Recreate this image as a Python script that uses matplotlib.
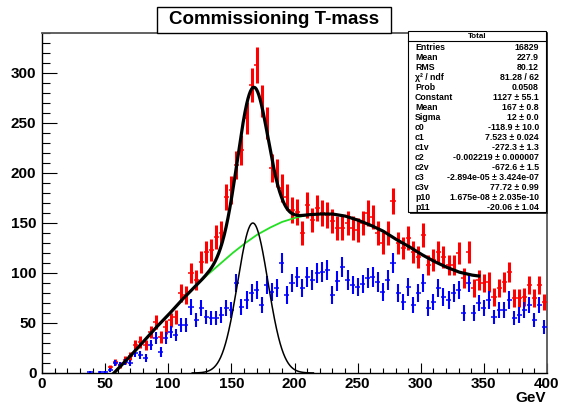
import numpy as np
import matplotlib.pyplot as plt
from matplotlib.patches import Rectangle

plt.rcParams['font.family'] = ['Liberation Sans', 'DejaVu Sans']
plt.rcParams['font.weight'] = 'bold'

# bin centres (4 GeV bins) and contents
red_x = [54, 58, 62, 66, 70, 74, 78, 82, 86, 90, 94, 98, 102, 106, 110, 114, 118, 122,
         126, 130, 134, 138, 142, 146, 150, 154, 158, 162, 166, 170, 174, 178, 182, 186,
         190, 194, 198, 202, 206, 210, 214, 218, 222, 226, 230, 234, 238, 242, 246, 250,
         254, 258, 262, 266, 270, 274, 278, 282, 286, 290, 294, 298, 302, 306, 310, 314,
         318, 322, 326, 330, 334, 338, 342, 346, 350, 354, 358, 362, 366, 370, 374, 378,
         382, 386, 390, 394, 398]
red_y = [6, 11, 8, 13, 17, 28, 31, 28, 41, 51, 36, 46, 53, 56, 80, 78, 100, 93,
         111, 121, 123, 136, 140, 176, 183, 208, 223, 255, 288, 308, 272, 250, 205, 200,
         185, 176, 163, 161, 140, 168, 153, 165, 160, 158, 152, 145, 145, 150, 145, 143,
         150, 160, 156, 140, 130, 140, 172, 130, 125, 135, 121, 116, 138, 108, 113, 121,
         116, 108, 108, 120, 95, 121, 85, 93, 90, 91, 76, 85, 91, 101, 75, 75,
         76, 88, 75, 88, 71]

blue_x = [38, 46, 50, 54, 58, 62, 66, 70, 74, 78, 82, 86, 90, 94, 98, 102, 106, 110,
          114, 118, 122, 126, 130, 134, 138, 142, 146, 150, 154, 158, 162, 166, 170, 174,
          178, 182, 186, 190, 194, 198, 202, 206, 210, 214, 218, 222, 226, 230, 234, 238,
          242, 246, 250, 254, 258, 262, 266, 270, 274, 278, 282, 286, 290, 294, 298, 302,
          306, 310, 314, 318, 322, 326, 330, 334, 338, 342, 346, 350, 354, 358, 362, 366,
          370, 374, 378, 382, 386, 390, 394, 398]
blue_y = [1, 1, 1, 3, 10, 8, 11, 10, 20, 18, 15, 28, 35, 21, 35, 41, 38, 48,
          48, 66, 53, 65, 56, 55, 55, 58, 65, 63, 90, 66, 73, 80, 83, 68,
          88, 81, 85, 110, 78, 90, 96, 85, 96, 93, 100, 101, 103, 78, 92, 106,
          93, 88, 86, 89, 95, 96, 91, 81, 93, 110, 80, 71, 86, 68, 80, 90,
          65, 71, 85, 76, 73, 80, 83, 60, 90, 60, 70, 65, 73, 56, 63, 63,
          73, 55, 58, 63, 68, 53, 68, 46]

# background shape of the fit
bg_x = [57, 60, 70, 80, 90, 100, 110, 120, 130, 140, 150, 160, 170, 180, 190, 200,
        210, 220, 230, 240, 250, 260, 270, 280, 290, 300, 310, 320, 330, 340, 346]
bg_y = [0, 4, 17, 31, 45, 58, 72, 85, 97, 108, 119, 129, 138, 145, 151, 155,
        158, 159, 159, 157, 153, 148, 142, 134, 127, 119, 112, 106, 101, 98, 97]

peak_mean = 167
peak_sigma = 12
peak_height = 150

stats = [("Entries", "16829"), ("Mean", "227.9"), ("RMS", "80.12"),
         ("\u03c7\u00b2 / ndf", "81.28 / 62"), ("Prob", "0.0508"),
         ("Constant", "1127 \u00b1 55.1"), ("Mean", "167 \u00b1 0.8"),
         ("Sigma", "12 \u00b1 0.0"), ("c0", "-118.9 \u00b1 10.0"),
         ("c1", "7.523 \u00b1 0.024"), ("c1v", "-272.3 \u00b1 1.3"),
         ("c2", "-0.002219 \u00b1 0.000007"), ("c2v", "-672.6 \u00b1 1.5"),
         ("c3", "-2.894e-05 \u00b1 3.424e-07"), ("c3v", "77.72 \u00b1 0.99"),
         ("p10", "1.675e-08 \u00b1 2.035e-10"), ("p11", "-20.06 \u00b1 1.04")]

W, H = 562, 407
fig = plt.figure(figsize=(W / 100, H / 100), dpi=100)
fig.patch.set_facecolor('white')


def fx(px):
    return px / W


def fy(py):
    return 1 - py / H


ax = fig.add_axes([fx(42), fy(373), fx(547) - fx(42), fy(33) - fy(373)])


def draw_hist(xs, ys, color, vlw):
    xs = np.array(xs, float)
    ys = np.array(ys, float)
    err = np.sqrt(ys)
    ax.vlines(xs, ys - err, ys + err, color=color, lw=vlw, zorder=3)
    ax.hlines(ys, xs - 2, xs + 2, color=color, lw=1.1, zorder=3)


draw_hist(red_x, red_y, '#ff0000', 2.2)
draw_hist(blue_x, blue_y, '#0000ff', 1.5)

# fit curves
xf = np.linspace(bg_x[0], bg_x[-1], 600)
bg = np.interp(xf, bg_x, bg_y)
gauss = peak_height * np.exp(-0.5 * ((xf - peak_mean) / peak_sigma) ** 2)
ax.plot(xf, bg, color='#22e022', lw=1.3, zorder=4)
ax.plot(xf, bg + gauss, color='black', lw=2.3, zorder=5)

xg = np.linspace(peak_mean - 4 * peak_sigma, peak_mean + 4 * peak_sigma, 300)
ax.plot(xg, peak_height * np.exp(-0.5 * ((xg - peak_mean) / peak_sigma) ** 2),
        color='black', lw=1.1, zorder=5)

ax.set_xlim(0, 400)
ax.set_ylim(0, 340)
ax.set_xticks(np.arange(0, 401, 50))
ax.set_xticks(np.arange(0, 401, 10), minor=True)
ax.set_yticks(np.arange(0, 301, 50))
ax.set_yticks(np.arange(0, 341, 10), minor=True)
ax.tick_params(axis='x', which='major', direction='in', length=7.2, width=0.8,
               labelsize=11, pad=3)
ax.tick_params(axis='x', which='minor', direction='in', length=3.6, width=0.8)
ax.tick_params(axis='y', which='major', direction='in', length=10.8, width=0.8,
               labelsize=11, pad=4)
ax.tick_params(axis='y', which='minor', direction='in', length=5.4, width=0.8)
for lab in ax.get_xticklabels() + ax.get_yticklabels():
    lab.set_fontweight('bold')
for side in ('left', 'bottom'):
    ax.spines[side].set_color('black')
    ax.spines[side].set_linewidth(1.0)
for side in ('top', 'right'):
    ax.spines[side].set_color('#555555')
    ax.spines[side].set_linewidth(1.3)

fig.text(fx(546), fy(398), 'GeV', ha='right', va='center', fontsize=11,
         fontweight='bold')

# title box
fig.patches.append(Rectangle((fx(157), fy(33)), fx(391) - fx(157), fy(7) - fy(33),
                             transform=fig.transFigure, facecolor='white',
                             edgecolor='black', lw=1.0, zorder=10))
fig.text(fx(274), fy(20), 'Commissioning T-mass', ha='center', va='center',
         fontsize=13.5, fontweight='bold', zorder=11)

# stats box with shadow
bl, br, bt, bb = 408, 546, 31, 212
fig.patches.append(Rectangle((fx(bl + 2), fy(bb + 2)), fx(br) - fx(bl), fy(bt) - fy(bb),
                             transform=fig.transFigure, facecolor='#333333',
                             edgecolor='none', zorder=10))
fig.patches.append(Rectangle((fx(bl), fy(bb)), fx(br) - fx(bl), fy(bt) - fy(bb),
                             transform=fig.transFigure, facecolor='white',
                             edgecolor='black', lw=0.8, zorder=11))
fig.lines.append(plt.Line2D([fx(bl), fx(br)], [fy(41), fy(41)],
                            transform=fig.transFigure, color='black', lw=0.8,
                            zorder=12))
fig.text(fx((bl + br) / 2), fy(36.2), 'Total', ha='center', va='center',
         fontsize=5.8, fontweight='bold', zorder=12)
for i, (name, val) in enumerate(stats):
    yy = fy(47 + i * 10.03)
    fig.text(fx(415), yy, name, ha='left', va='center', fontsize=6.3,
             fontweight='bold', zorder=12)
    fig.text(fx(539), yy, val, ha='right', va='center', fontsize=6.3,
             fontweight='bold', zorder=12)

fig.savefig('out.png', dpi=100)
